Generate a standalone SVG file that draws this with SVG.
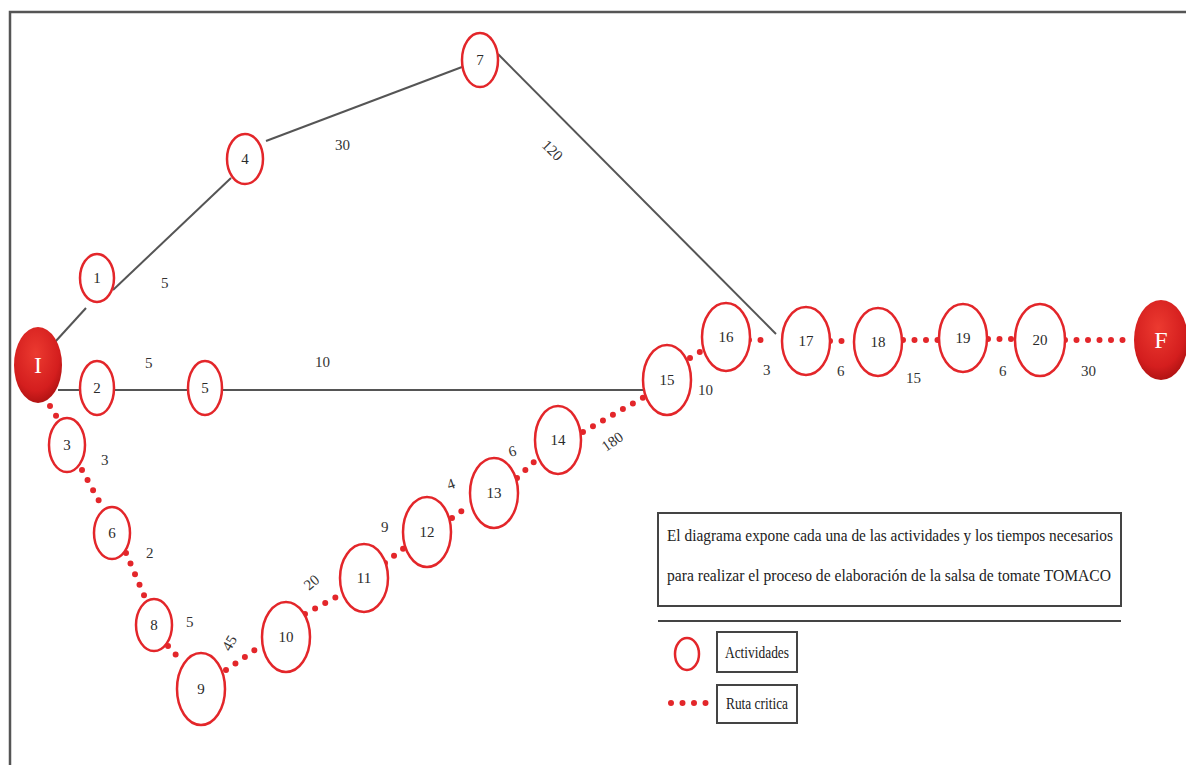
<svg xmlns="http://www.w3.org/2000/svg" width="1186" height="765" viewBox="0 0 1186 765">
<style>
.n{fill:#fff;stroke:#e3262a;stroke-width:2.5}
.t{font-family:"Liberation Serif",serif;font-size:15px;fill:#2a2a2a;text-anchor:middle}
.e{font-family:"Liberation Serif",serif;font-size:15px;fill:#333}
.g{stroke:#555;stroke-width:2;fill:none}
.c{stroke:#e3262a;stroke-width:6;stroke-linecap:round;stroke-dasharray:0 11.5;fill:none}
.big{font-family:"Liberation Serif",serif;font-size:24px;fill:#fff;text-anchor:middle}
.leg{font-family:"Liberation Serif",serif;font-size:17px;fill:#222}
.box{fill:#fff;stroke:#444;stroke-width:2}
</style>
<defs>
<radialGradient id="rg" cx="0.45" cy="0.35" r="0.7">
<stop offset="0" stop-color="#ec3a30"/>
<stop offset="0.7" stop-color="#d41e1e"/>
<stop offset="1" stop-color="#a81010"/>
</radialGradient>
</defs>
<rect width="1186" height="765" fill="#fff"/>
<path d="M10 765V12H1186" stroke="#555" stroke-width="2.5" fill="none"/>

<g id="connectors">
<path class="g" d="M55 342L86 308"/>
<path class="g" d="M113 290L231 178"/>
<path class="g" d="M266 141L462 67"/>
<path class="g" d="M498 54L776 334"/>
<path class="g" d="M58 390H80"/>
<path class="g" d="M114 390H188"/>
<path class="g" d="M222 390H644"/>
<path class="c" d="M50 406L58 419"/>
<path class="c" d="M82 470L104 510"/>
<path class="c" d="M126 553L146 600"/>
<path class="c" d="M168 646L176 655"/>
<path class="c" d="M226 670L262 645"/>
<path class="c" d="M305 614L342 594"/>
<path class="c" d="M385 563L404 548"/>
<path class="c" d="M452 518L470 505"/>
<path class="c" d="M517 478L536 460"/>
<path class="c" d="M583 432L644 397"/>
<path class="c" d="M690 358L703 350"/>
<path class="c" d="M749 340L772 340"/>
<path class="c" d="M830 341L853 341"/>
<path class="c" d="M903 340L939 340"/>
<path class="c" d="M988 339L1015 339"/>
<path class="c" d="M1065 340L1134 340"/>
</g>

<g id="labels">
<text class="e" x="161" y="288">5</text>
<text class="e" x="335" y="150">30</text>
<text class="e" transform="translate(541 146) rotate(45)">120</text>
<text class="e" x="145" y="368">5</text>
<text class="e" x="315" y="367">10</text>
<text class="e" x="101" y="465">3</text>
<text class="e" x="146" y="558">2</text>
<text class="e" x="186" y="627">5</text>
<text class="e" transform="translate(230 652) rotate(-60)">45</text>
<text class="e" transform="translate(309 591) rotate(-40)">20</text>
<text class="e" x="381" y="532">9</text>
<text class="e" transform="translate(449 490) rotate(-20)">4</text>
<text class="e" transform="translate(510 457) rotate(-15)">6</text>
<text class="e" transform="translate(606 452) rotate(-35)">180</text>
<text class="e" x="698" y="395">10</text>
<text class="e" x="763" y="375">3</text>
<text class="e" x="837" y="376">6</text>
<text class="e" x="906" y="383">15</text>
<text class="e" x="999" y="376">6</text>
<text class="e" x="1081" y="376">30</text>
</g>

<g id="node-I"><ellipse cx="38" cy="365" rx="24" ry="38" fill="url(#rg)"/><text class="big" x="38" y="373">I</text></g>
<g id="node-1"><ellipse class="n" cx="97" cy="278" rx="17" ry="24"/><text class="t" x="97" y="283">1</text></g>
<g id="node-2"><ellipse class="n" cx="97" cy="388" rx="17" ry="27"/><text class="t" x="97" y="393">2</text></g>
<g id="node-3"><ellipse class="n" cx="67" cy="445" rx="18" ry="27"/><text class="t" x="67" y="450">3</text></g>
<g id="node-4"><ellipse class="n" cx="245" cy="159" rx="18" ry="25"/><text class="t" x="245" y="164">4</text></g>
<g id="node-5"><ellipse class="n" cx="205" cy="388" rx="17" ry="27"/><text class="t" x="205" y="393">5</text></g>
<g id="node-6"><ellipse class="n" cx="112" cy="533" rx="18" ry="26"/><text class="t" x="112" y="538">6</text></g>
<g id="node-7"><ellipse class="n" cx="480" cy="60" rx="18" ry="27"/><text class="t" x="480" y="65">7</text></g>
<g id="node-8"><ellipse class="n" cx="154" cy="625" rx="18" ry="26"/><text class="t" x="154" y="630">8</text></g>
<g id="node-9"><ellipse class="n" cx="201" cy="689" rx="24" ry="36"/><text class="t" x="201" y="694">9</text></g>
<g id="node-10"><ellipse class="n" cx="286" cy="637" rx="24" ry="35"/><text class="t" x="286" y="642">10</text></g>
<g id="node-11"><ellipse class="n" cx="364" cy="578" rx="24" ry="34"/><text class="t" x="364" y="583">11</text></g>
<g id="node-12"><ellipse class="n" cx="427" cy="532" rx="24" ry="35"/><text class="t" x="427" y="537">12</text></g>
<g id="node-13"><ellipse class="n" cx="494" cy="493" rx="24" ry="35"/><text class="t" x="494" y="498">13</text></g>
<g id="node-14"><ellipse class="n" cx="558" cy="440" rx="23" ry="34"/><text class="t" x="558" y="445">14</text></g>
<g id="node-15"><ellipse class="n" cx="667" cy="380" rx="24" ry="35"/><text class="t" x="667" y="385">15</text></g>
<g id="node-16"><ellipse class="n" cx="726" cy="337" rx="24" ry="34"/><text class="t" x="726" y="342">16</text></g>
<g id="node-17"><ellipse class="n" cx="806" cy="341" rx="24" ry="34"/><text class="t" x="806" y="346">17</text></g>
<g id="node-18"><ellipse class="n" cx="878" cy="342" rx="24" ry="34"/><text class="t" x="878" y="347">18</text></g>
<g id="node-19"><ellipse class="n" cx="963" cy="338" rx="24" ry="34"/><text class="t" x="963" y="343">19</text></g>
<g id="node-20"><ellipse class="n" cx="1040" cy="340" rx="25" ry="36"/><text class="t" x="1040" y="345">20</text></g>
<g id="node-F"><ellipse cx="1161" cy="340" rx="27" ry="40" fill="url(#rg)"/><text class="big" x="1161" y="348">F</text></g>

<g id="legend">
<rect class="box" x="658" y="513" width="463" height="93"/>
<text class="leg" x="667" y="541" textLength="446" lengthAdjust="spacingAndGlyphs">El diagrama expone cada una de las actividades y los tiempos  necesarios</text>
<text class="leg" x="667" y="581" textLength="444" lengthAdjust="spacingAndGlyphs">para realizar el proceso de elaboración de la salsa de tomate TOMACO</text>
<path d="M658 621H1121" stroke="#444" stroke-width="2"/>
<ellipse class="n" cx="687" cy="654" rx="12" ry="16"/>
<rect class="box" x="717" y="632" width="80" height="40"/>
<text class="leg" x="757" y="658" font-size="14" text-anchor="middle" textLength="64" lengthAdjust="spacingAndGlyphs">Actividades</text>
<path class="c" d="M671 703H707"/>
<rect class="box" x="717" y="685" width="80" height="38"/>
<text class="leg" x="757" y="709" font-size="14" text-anchor="middle" textLength="62" lengthAdjust="spacingAndGlyphs">Ruta critica</text>
</g>
</svg>
